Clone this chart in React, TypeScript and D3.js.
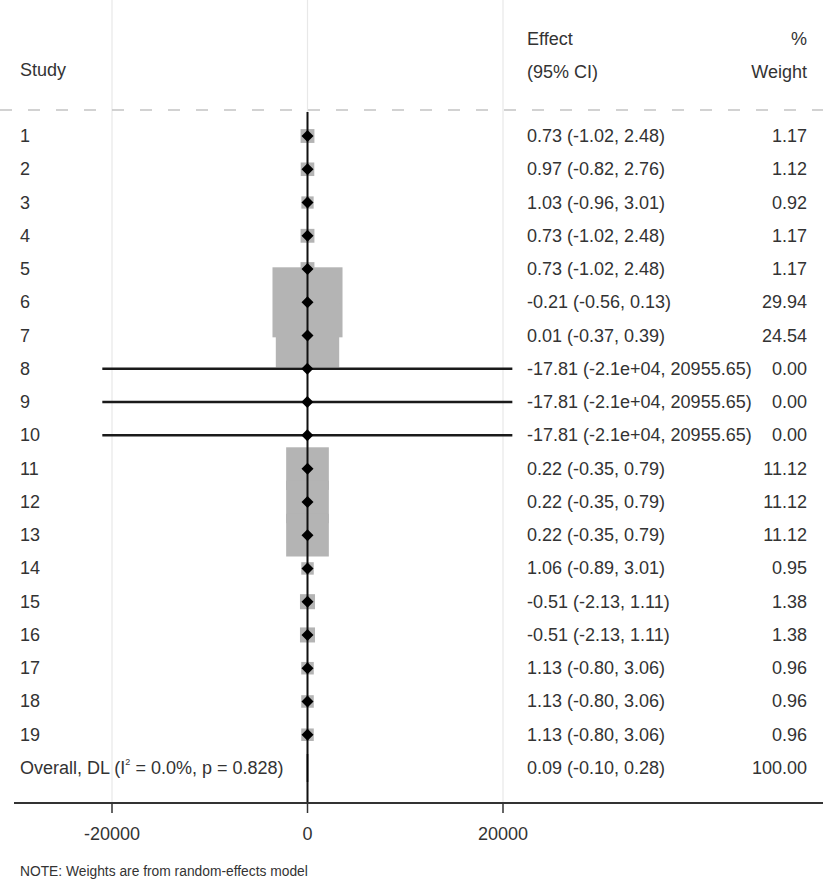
import React from 'react';
import * as d3 from 'd3';

const studies = ['1', '2', '3', '4', '5', '6', '7', '8', '9', '10', '11', '12', '13', '14', '15', '16', '17', '18', '19'];
const effects = [0.73, 0.97, 1.03, 0.73, 0.73, -0.21, 0.01, -17.81, -17.81, -17.81, 0.22, 0.22, 0.22, 1.06, -0.51, -0.51, 1.13, 1.13, 1.13];
const lowers = [-1.02, -0.82, -0.96, -1.02, -1.02, -0.56, -0.37, -20991.27, -20991.27, -20991.27, -0.35, -0.35, -0.35, -0.89, -2.13, -2.13, -0.8, -0.8, -0.8];
const uppers = [2.48, 2.76, 3.01, 2.48, 2.48, 0.13, 0.39, 20955.65, 20955.65, 20955.65, 0.79, 0.79, 0.79, 3.01, 1.11, 1.11, 3.06, 3.06, 3.06];
const weights = [1.17, 1.12, 0.92, 1.17, 1.17, 29.94, 24.54, 0, 0, 0, 11.12, 11.12, 11.12, 0.95, 1.38, 1.38, 0.96, 0.96, 0.96];

const overall = { effect: 0.09, lower: -0.1, upper: 0.28, weight: 100 };
const xTicks = [-20000, 0, 20000];

const W = 823;
const H = 880;
const FONT = '"Liberation Sans", Arial, sans-serif';
const TEXT = '#333';

// Stata-like %9.2f with overflow to exponent
const fmt = (v: number) => {
  const s = d3.format('.2f')(v).replace('−', '-');
  if (s.length > 8) return v.toExponential(1).replace(/e([+-])(\d)$/, 'e$10$2');
  return s;
};

const App = () => {
  const x = d3.scaleLinear().domain([-20000, 20000]).range([112, 503]);
  const y = d3.scaleLinear().domain([0, studies.length]).range([136, 768]);
  const sq = (w: number) => 12.8 * Math.sqrt(w);
  const axisY = 803;
  const yOv = y(studies.length);

  return (
    <svg width={W} height={H} style={{ position: 'absolute', left: 0, top: 0, background: '#fff' }}
      fontFamily={FONT}>
      <rect x={0} y={0} width={W} height={H} fill="#fff" />

      {/* faint grid lines at ticks */}
      {xTicks.map(t => (
        <line key={'g' + t} x1={x(t)} x2={x(t)} y1={0} y2={axisY} stroke="#e8e8e8" strokeWidth={1.2} />
      ))}

      {/* header separator */}
      <line x1={0} x2={W} y1={110} y2={110} stroke="#c4c4c4" strokeWidth={1.5} strokeDasharray="12,16" />

      {/* weight squares */}
      {studies.map((s, i) => {
        const a = sq(weights[i]);
        return a > 0 ? (
          <rect key={'s' + s} x={x(effects[i]) - a / 2} y={y(i) - a / 2} width={a} height={a} fill="#b4b4b4" />
        ) : null;
      })}

      {/* null line */}
      <line x1={x(0)} x2={x(0)} y1={112} y2={axisY} stroke="#111" strokeWidth={2} />

      {/* confidence intervals */}
      {studies.map((s, i) => (
        <line key={'c' + s} x1={x(lowers[i])} x2={x(uppers[i])} y1={y(i)} y2={y(i)} stroke="#1a1a1a" strokeWidth={2.5} />
      ))}

      {/* point estimates */}
      {studies.map((s, i) => {
        const cx = x(effects[i]);
        const cy = y(i);
        return <path key={'d' + s} d={`M${cx},${cy - 6}L${cx + 6},${cy}L${cx},${cy + 6}L${cx - 6},${cy}Z`} fill="#000" />;
      })}

      {/* overall diamond */}
      <path
        d={`M${x(overall.lower)},${yOv}L${x(overall.effect)},${yOv - 14}L${x(overall.upper)},${yOv}L${x(overall.effect)},${yOv + 14}Z`}
        fill="#000" stroke="#000" strokeWidth={1.5} />

      {/* axis */}
      <line x1={14} x2={W} y1={axisY} y2={axisY} stroke="#333" strokeWidth={2} />
      {xTicks.map(t => (
        <g key={'t' + t}>
          <line x1={x(t)} x2={x(t)} y1={axisY} y2={axisY + 10} stroke="#333" strokeWidth={1.5} />
          <text x={x(t)} y={840} textAnchor="middle" fontSize={18} fill={TEXT}>{t}</text>
        </g>
      ))}

      {/* headers */}
      <text x={20} y={76} fontSize={18} fill={TEXT}>Study</text>
      <text x={527} y={45} fontSize={18} fill={TEXT}>Effect</text>
      <text x={527} y={78} fontSize={18} fill={TEXT}>(95% CI)</text>
      <text x={807} y={45} fontSize={18} fill={TEXT} textAnchor="end">%</text>
      <text x={807} y={78} fontSize={18} fill={TEXT} textAnchor="end">Weight</text>

      {/* rows */}
      {studies.map((s, i) => (
        <g key={'r' + s} fontSize={18} fill={TEXT}>
          <text x={20} y={y(i) + 6}>{s}</text>
          <text x={527} y={y(i) + 6}>{`${fmt(effects[i])} (${fmt(lowers[i])}, ${fmt(uppers[i])})`}</text>
          <text x={807} y={y(i) + 6} textAnchor="end">{fmt(weights[i])}</text>
        </g>
      ))}

      <g fontSize={18} fill={TEXT}>
        <text x={20} y={yOv + 6}>
          Overall, DL (I<tspan fontSize={9} dy={-9}>2</tspan><tspan dy={9}> = 0.0%, p = 0.828)</tspan>
        </text>
        <text x={527} y={yOv + 6}>{`${fmt(overall.effect)} (${fmt(overall.lower)}, ${fmt(overall.upper)})`}</text>
        <text x={807} y={yOv + 6} textAnchor="end">{fmt(overall.weight)}</text>
      </g>

      <text x={20} y={876} fontSize={13.8} fill={TEXT}>NOTE: Weights are from random-effects model</text>
    </svg>
  );
};

export default App;
